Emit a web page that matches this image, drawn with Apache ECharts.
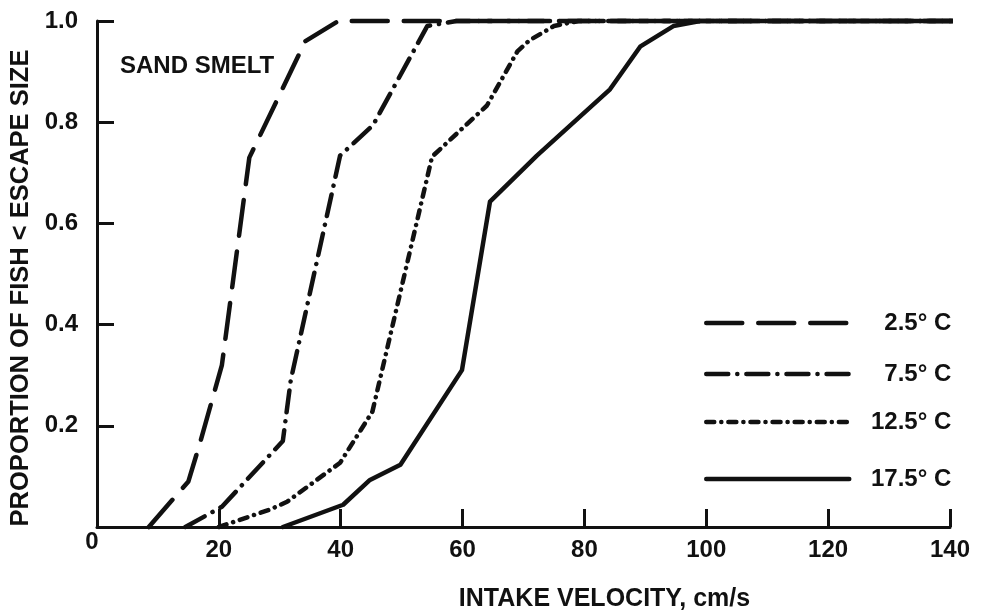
<!DOCTYPE html>
<html><head><meta charset="utf-8">
<script src="https://cdn.jsdelivr.net/npm/echarts@6/dist/echarts.min.js"></script>
<style>html,body{margin:0;padding:0;background:#fff}#c{width:999px;height:611px}</style>
</head><body><div id="c"></div>
<script>
// ---- data ----
const seriesNames = ['2.5° C', '7.5° C', '12.5° C', '17.5° C'];
const v25  = [8.5, 15, 17, 20.5, 25, 34.2, 39.6, 148];
const p25  = [0, 0.09, 0.17, 0.32, 0.73, 0.96, 1.0, 1.0];
const v75  = [14.5, 20.5, 30.5, 31.8, 39.9, 45.3, 54.2, 59, 148];
const p75  = [0, 0.04, 0.17, 0.29, 0.734, 0.794, 0.99, 1.0, 1.0];
const v125 = [20, 28.5, 31.2, 39.9, 45.2, 55, 64, 69, 71, 75, 79, 148];
const p125 = [0, 0.035, 0.05, 0.127, 0.228, 0.732, 0.833, 0.94, 0.962, 0.99, 1.0, 1.0];
const v175 = [30.5, 40.4, 44.8, 49.8, 59.9, 64.5, 72.2, 84.2, 89.2, 94.6, 99, 148];
const p175 = [0, 0.044, 0.093, 0.123, 0.31, 0.643, 0.734, 0.865, 0.95, 0.99, 1.0, 1.0];
const xTicks = [0, 20, 40, 60, 80, 100, 120, 140];
const yTicks = [0.2, 0.4, 0.6, 0.8, 1.0];
const chartTitle = 'SAND SMELT';
const xName = 'INTAKE VELOCITY, cm/s';
const yName = 'PROPORTION OF FISH < ESCAPE SIZE';

// ---- styling ----
const FONT = 'Liberation Sans';
const pair = (xs, ys) => xs.map((x, i) => [x, ys[i]]);
const dashes = [[36, 16], [22, 9, 0.1, 9], [8, 7, 0.1, 7], 'solid'];
const dataSets = [pair(v25, p25), pair(v75, p75), pair(v125, p125), pair(v175, p175)];
const legendTops = [306, 357, 405, 462];

const chart = echarts.init(document.getElementById('c'), null, {renderer: 'canvas'});
const option = {
  backgroundColor: '#fff',
  animation: false,
  title: {
    text: chartTitle, left: 115, top: 49,
    textStyle: {fontFamily: FONT, fontWeight: 'bold', fontSize: 24, color: '#111'}
  },
  grid: {left: 97, right: 49, top: 21, bottom: 84, containLabel: false, outerBoundsMode: 'none'},
  legend: seriesNames.map((n, i) => ({
    data: [n], left: 699, top: legendTops[i], orient: 'vertical',
    selectedMode: false, itemWidth: 143, itemHeight: 24, itemGap: 0,
    itemStyle: {color: 'rgba(0,0,0,0)', borderWidth: 0, opacity: 0},
    lineStyle: {width: 4.5, color: '#111', cap: 'round'},
    formatter: '{a|{name}}',
    textStyle: {
      fontFamily: FONT, fontWeight: 'bold', fontSize: 24, color: '#111', lineHeight: 24,
      rich: {a: {width: 97, align: 'right', fontFamily: FONT, fontWeight: 'bold', fontSize: 24, color: '#111'}}
    }
  })),
  xAxis: {
    type: 'value', min: 0, max: 140, interval: 20,
    name: xName, nameLocation: 'middle', nameGap: 60,
    nameTextStyle: {fontFamily: FONT, fontWeight: 'bold', fontSize: 25, color: '#111', padding: [0, 0, 0, 162]},
    axisLine: {show: true, lineStyle: {color: '#111', width: 3}},
    axisTick: {show: true, inside: true, length: 18, lineStyle: {color: '#111', width: 3}},
    axisLabel: {
      margin: 11, fontFamily: FONT, fontWeight: 'bold', fontSize: 24, color: '#111',
      formatter: v => xTicks.indexOf(v) < 0 ? '' : (v === 0 ? '{z|0}' : String(v)),
      rich: {z: {lineHeight: 8, padding: [0, 10, 0, 0], fontFamily: FONT, fontWeight: 'bold', fontSize: 24, color: '#111'}}
    },
    splitLine: {show: false}
  },
  yAxis: {
    type: 'value', min: 0, max: 1.0, interval: 0.2,
    name: yName, nameLocation: 'middle', nameGap: 58, nameRotate: 90,
    nameTextStyle: {fontFamily: FONT, fontWeight: 'bold', fontSize: 25.5, color: '#111', padding: [0, 28, 0, 0]},
    axisLine: {show: true, lineStyle: {color: '#111', width: 3}},
    axisTick: {show: true, inside: true, length: 17, lineStyle: {color: '#111', width: 3}},
    axisLabel: {
      margin: 19, fontFamily: FONT, fontWeight: 'bold', fontSize: 24, color: '#111',
      showMinLabel: false,
      formatter: v => yTicks.some(t => Math.abs(t - v) < 1e-9) ? v.toFixed(1) : ''
    },
    splitLine: {show: false}
  },
  series: seriesNames.map((n, i) => ({
    name: n, type: 'line', data: dataSets[i], symbol: 'none', clip: false,
    smooth: false, silent: true,
    lineStyle: {color: '#111', width: 4.5, type: dashes[i], cap: 'round', join: 'round'},
    itemStyle: {color: '#111'},
    z: 10 - i
  }))
};
chart.setOption(option);
</script>
</body></html>
